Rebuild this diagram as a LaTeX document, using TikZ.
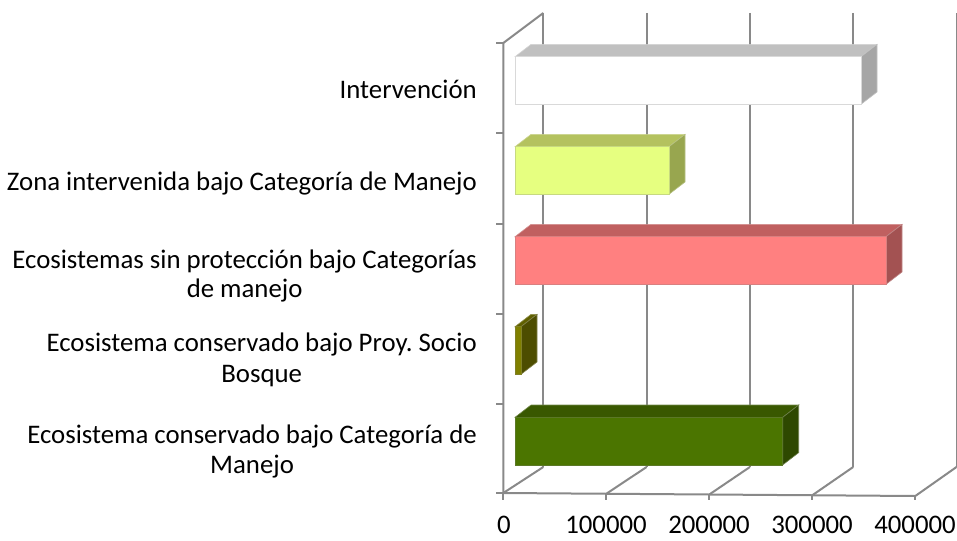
\documentclass[tikz,border=0pt]{standalone}
\usepackage{fontspec}
\setmainfont{Carlito}
\frenchspacing
\definecolor{gridgray}{HTML}{898989}
\definecolor{wFront}{HTML}{FFFFFF}
\definecolor{wTop}{HTML}{C0C0C0}
\definecolor{wSide}{HTML}{A6A6A6}
\definecolor{yFront}{HTML}{E6FF80}
\definecolor{yTop}{HTML}{B4C25F}
\definecolor{ySide}{HTML}{98A64F}
\definecolor{rFront}{HTML}{FF8080}
\definecolor{rTop}{HTML}{C06060}
\definecolor{rSide}{HTML}{A35252}
\definecolor{oFront}{HTML}{808000}
\definecolor{oTop}{HTML}{606000}
\definecolor{oSide}{HTML}{4D4D00}
\definecolor{gFront}{HTML}{4B7500}
\definecolor{gTop}{HTML}{395800}
\definecolor{gSide}{HTML}{2E4800}
\newcommand\mybarbox[5]{%
  % #1 top y of front face, #2 right x of front face, #3 front, #4 top, #5 side
  \filldraw[fill=#4,draw=#4!70!white,line width=0.6pt] (515,#1) -- (531,{#1-12.3}) -- ({#2+16},{#1-12.3}) -- (#2,#1) -- cycle;
  \filldraw[fill=#5,draw=#5!70!white,line width=0.6pt] (#2,#1) -- ({#2+16},{#1-12.3}) -- ({#2+16},{#1+35.3}) -- (#2,{#1+47.6}) -- cycle;
  \filldraw[fill=#3,draw=#3!70!gray,line width=0.6pt] (515,#1) rectangle (#2,{#1+47.6});
}
\begin{document}
\begin{tikzpicture}[x=1pt,y=-1pt,
  grid/.style={draw=gridgray,line width=2pt},
  lbl/.style={font=\fontsize{26.8}{30}\selectfont,inner sep=0pt},
  num/.style={font=\fontsize{26.8}{30}\selectfont,inner sep=0pt,anchor=base}]
\useasboundingbox (0,0) rectangle (957,540);
% back wall gridlines and floor
\foreach \k in {0,...,4}{
  \draw[grid] ({543.3+103.3*\k},13) -- ({543.3+103.3*\k},467);
  \draw[grid] ({503.3+103*\k},{493+0.75*\k}) -- ({543.3+103.3*\k},467);
  \draw[grid] ({503.3+103*\k},{493+0.75*\k}) -- ({503.3+103*\k},500);
}
% front axes
\draw[grid] (503.3,43) -- (503.3,493) -- (915.3,496);
\draw[grid] (503.3,43) -- (543.3,13);
\foreach \y in {43,133,224,314,404,493}{
  \draw[grid] (496,\y) -- (503.3,\y);
}
% bars
\mybarbox{56.7}{861}{wFront}{wTop}{wSide}
\mybarbox{146.7}{669}{yFront}{yTop}{ySide}
\mybarbox{236.7}{886}{rFront}{rTop}{rSide}
\mybarbox{326.7}{521}{oFront}{oTop}{oSide}
\mybarbox{417.3}{782.7}{gFront}{gTop}{gSide}
% category labels
\node[lbl,anchor=base east] (c1) at (477,98.3) {Intervención};
\node[lbl,anchor=base east] (c2) at (477,190) {Zona intervenida bajo Categoría de Manejo};
\node[lbl,anchor=base east] (c3a) at (477,268.3) {Ecosistemas sin protección bajo Categorías};
\node[lbl,anchor=base] (c3b) at ([yshift=-29pt]c3a.base) {de manejo};
\node[lbl,anchor=base east] (c4a) at (477,351.6) {Ecosistema conservado bajo Proy. Socio};
\node[lbl,anchor=base] (c4b) at ([yshift=-31pt]c4a.base) {Bosque};
\node[lbl,anchor=base east] (c5a) at (477,443.3) {Ecosistema conservado bajo Categoría de};
\node[lbl,anchor=base] (c5b) at ([yshift=-30pt]c5a.base) {Manejo};
% value labels
\node[num] (v0) at (504,533.5) {0};
\node[num] (v1) at (606,533.5) {100000};
\node[num] (v2) at (709,533.5) {200000};
\node[num] (v3) at (812,533.5) {300000};
\node[num] (v4) at (915,533.5) {400000};
\end{tikzpicture}
\end{document}
